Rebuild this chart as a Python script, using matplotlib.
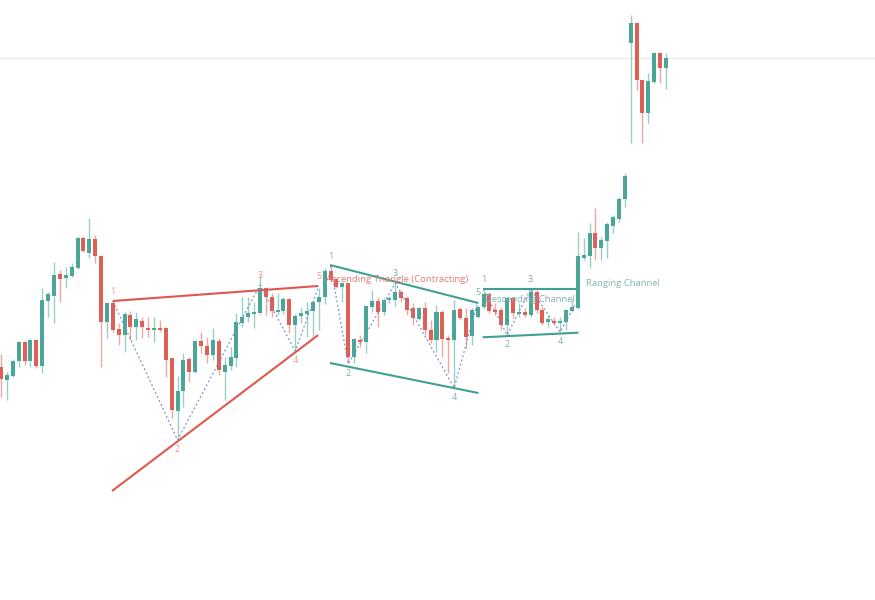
import matplotlib
matplotlib.use("Agg")
import matplotlib.pyplot as plt
import numpy as np

# ---- OHLC data (price units) ----
opens = [233, 220, 224, 239, 258, 239, 260, 234, 299, 304, 326, 322, 324, 332, 362, 347, 361, 344, 278, 297,
         271, 265, 285, 273, 279, 272, 270, 272, 272, 242, 189, 209, 241, 228, 259, 254, 245, 259, 228, 234,
         242, 277, 283, 286, 287, 312, 303, 288.5, 289, 301, 275, 284, 286, 289, 298, 303, 329, 321, 313, 317,
         243, 260, 258, 293, 299, 288, 300, 300, 308, 302, 292, 281, 292, 270, 260, 288, 262, 260, 291, 282,
         264, 283, 293, 306, 290, 290, 275, 302, 286.5, 288, 285, 308, 290, 278, 279, 277, 278, 289, 292, 342.5,
         344, 367, 352, 359, 374, 381, 401, 557, 577, 520, 487, 518, 547, 532]
highs = [246, 228, 241, 259, 259, 261, 261, 312, 308, 338, 330, 333, 337, 364, 364, 382, 365, 345, 297, 299,
         277, 288, 289, 288, 283, 283, 283, 280, 273, 242, 224, 247, 243, 259, 268, 263, 272, 262, 243, 253,
         287, 303, 303, 298, 325, 313, 307, 307, 303, 302, 286, 293, 298, 300, 312, 332, 334, 322, 318, 317,
         262, 265, 295, 310, 303, 302, 304, 317, 310, 304, 297, 293, 298, 280, 295, 290, 265, 300, 293, 292,
         292, 294, 310, 308, 297, 293, 303, 303, 297, 292, 311, 310, 293, 285, 283, 283, 291, 300, 368, 362,
         377, 392, 363, 378, 385, 403, 427, 585, 578, 520, 527, 548, 548, 547]
lows = [203, 200, 223, 233, 235, 233, 232, 227, 283, 277, 298, 312, 323, 331, 348, 342, 337, 233, 262, 268,
        255, 248, 260, 260, 262, 263, 258, 268, 223, 182, 160, 193, 218, 227, 247, 237, 240, 225, 200, 230,
        233, 273, 278, 272, 286, 285, 283, 285, 286, 267, 248, 277, 263, 262, 270, 296, 318, 312, 298, 237,
        237, 253, 247, 288, 273, 285, 297, 294, 298, 285, 275, 280, 265, 257, 248, 243, 227, 212, 280, 252,
        255, 282, 291, 287, 285, 270, 265, 282, 283, 283, 283, 287, 275, 273, 275, 268, 270, 288, 291, 340,
        332, 340, 340, 342, 367, 378, 393, 457, 510, 457, 477, 517, 517, 511]
closes = [221, 225, 239, 258, 239, 260, 234, 300, 306, 325, 321, 325, 333, 362, 349, 361, 344, 278, 297, 270,
          265, 286, 273, 281, 273, 270, 272, 270.5, 240, 190, 209, 240, 228, 259, 254, 245, 260, 230, 235, 243,
          278, 283, 287, 288, 312, 303, 289, 290, 301, 275, 284, 287, 289, 298, 303, 329, 320, 313, 317, 243,
          261, 258, 294, 299, 288, 300, 302, 308, 302, 290, 282, 292, 270, 260, 288, 261, 260.5, 290, 282, 263,
          290, 293, 306, 289, 288, 275, 302, 287, 288, 285, 308, 290, 277, 281, 277, 279, 290, 293, 344, 345,
          367, 352, 360, 376, 383, 401, 424, 577, 520, 487, 519, 547, 532, 542]

# ---- chart patterns: pivot (bar index, price) ----
p1_idx = [19, 30, 44, 50, 54]
p1_px = [299, 160, 315, 249, 314]
p1_upper = ([19, 53.9], [299, 314])
p1_lower = ([18.86, 53.9], [109, 265])
p1_name = "Ascending Triangle (Contracting)"

p2_idx = [56, 59, 67, 77, 81]
p2_px = [334, 236, 317, 212, 298]
p2_upper = ([55.9, 81.1], [335, 297])
p2_lower = ([55.9, 81.1], [237, 207])
p2_name = "Descending Channel"

p3_idx = [82, 86, 90, 95, 97.6]
p3_px = [311, 265, 311, 268, 296]
p3_upper = ([81.95, 97.8], [310.7, 310.7])
p3_lower = ([81.85, 98.1], [262.7, 267.3])
p3_name = "Ranging Channel"

UP = "#4aa699"
DOWN = "#e05f55"
RED_LINE = "#e0574f"
TEAL_LINE = "#3fa093"
ZIG = "#7b8fcf"
FONT = ["Open Sans", "DejaVu Sans"]

fig = plt.figure(figsize=(8.75, 6), dpi=100)
ax = fig.add_axes([0, 0, 1, 1])
ax.axis("off")
ax.set_xlim(-0.17, 148.51)
ax.set_ylim(0, 600)

# last price line
ax.axhline(closes[-1], color="#ebebeb", lw=1, zorder=0)

x = np.arange(len(opens))
o = np.array(opens, float); c = np.array(closes, float)
h = np.array(highs, float); l = np.array(lows, float)
up = c >= o
cols = np.where(up, UP, DOWN)
ax.vlines(x, l, h, colors=cols, lw=1, alpha=0.55, zorder=2)
bottoms = np.minimum(o, c)
heights = np.maximum(np.abs(c - o), 1.3)
ax.bar(x, heights, bottom=bottoms, width=0.68, color=cols, linewidth=0, zorder=3)


def draw_pattern(idx, px, upper, lower, lcol, numcol, name, namecol, name_off, n_labels=5):
    ax.plot(upper[0], upper[1], color=lcol, lw=1.5, zorder=4, solid_capstyle="butt")
    ax.plot(lower[0], lower[1], color=lcol, lw=1.5, zorder=4, solid_capstyle="butt")
    ax.plot(idx, px, color=ZIG, lw=0.9, ls=(0, (1.5, 2)), zorder=5)
    for k, (xi, yi) in enumerate(zip(idx[:n_labels], px[:n_labels])):
        if k % 2 == 0:
            off, va = (0, 5), "bottom"
        else:
            off, va = (0, -5), "top"
        ax.annotate(str(k + 1), (xi, yi), xytext=off, textcoords="offset pixels",
                    ha="center", va=va, fontsize=6.5, color=numcol, family=FONT, zorder=6)
    ax.annotate(name, (idx[-1], px[-1]), xytext=name_off, textcoords="offset pixels",
                ha="left", va="center", fontsize=6.8, color=namecol, family=FONT, zorder=6)


draw_pattern(p1_idx, p1_px, p1_upper, p1_lower, RED_LINE, "#e89a94", p1_name, "#e57b73", (7, 6))
draw_pattern(p2_idx, p2_px, p2_upper, p2_lower, TEAL_LINE, "#82a9b0", p2_name, "#86aeb0", (7, 3))
draw_pattern(p3_idx, p3_px, p3_upper, p3_lower, TEAL_LINE, "#82a9b0", p3_name, "#86b5b0", (11, 20),
             n_labels=4)

fig.savefig("out.png", dpi=100, facecolor="white")
